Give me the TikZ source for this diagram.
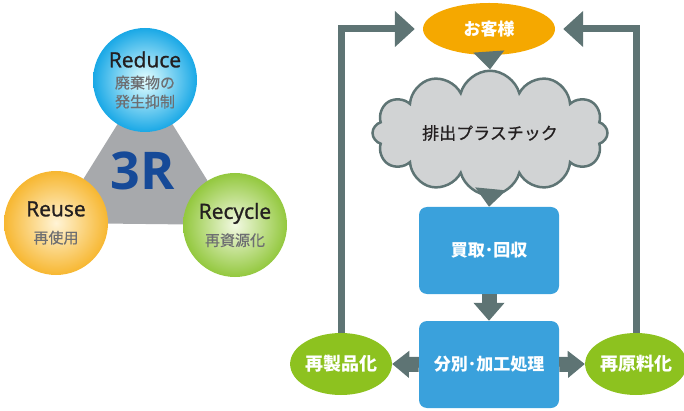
\documentclass[tikz,border=0pt]{standalone}
\usepackage{fontspec}
\setmainfont{Open Sans}
\newfontfamily\rfont[FakeBold=1.2]{Open Sans}
\newfontfamily\jp{Noto Sans CJK JP}
\newfontfamily\jpm[FakeBold=0.6]{Noto Sans CJK JP}
\usepackage{tikz}
\usetikzlibrary{shapes.symbols,shapes.geometric,arrows.meta,backgrounds}
\usepackage{xcolor}
\definecolor{slate}{RGB}{94,116,116}
\definecolor{custorange}{RGB}{245,168,0}
\definecolor{boxblue}{RGB}{58,161,220}
\definecolor{leaf}{RGB}{141,194,31}
\definecolor{cloudgray}{RGB}{209,211,212}
\definecolor{trigray}{RGB}{167,169,172}
\definecolor{rblue}{RGB}{22,74,152}
\definecolor{rtext}{RGB}{35,31,32}
\definecolor{subgray}{RGB}{109,110,113}
\newcommand\fsz[1]{\fontsize{#1}{1.2\dimexpr#1pt\relax}\selectfont}
\tikzstyle{rcircle} = [circle, minimum size=104pt, inner sep=0pt, align=center,
    text=rtext, shading=radial, font=\jpm\fsz{15}]
\tikzstyle{flowbox} = [rectangle, rounded corners=8pt, fill=boxblue,
    minimum width=140pt, minimum height=87pt, text=white, font=\jp\bfseries\fsz{17}]
\tikzstyle{greenell} = [ellipse, fill=leaf, minimum width=98pt, minimum height=62pt,
    inner sep=0pt, text=white, font=\jp\bfseries\fsz{18}]
\tikzstyle{bigarrow} = [line width=15pt, draw=slate, -{Triangle[width=30pt,length=18pt]}]
\tikzstyle{fbline} = [line width=7pt, draw=slate, -{Triangle[width=35pt,length=20pt]}]

\begin{document}
\begin{tikzpicture}[x=1pt,y=-1pt]
\useasboundingbox (0,0) rectangle (684,411);
% 3R
\node [rcircle, inner color=white!90!cyan, outer color={rgb,255:red,25;green,168;blue,230}] (reduce) at (145,80)
    {{\rfont\fsz{21}Reduce}\\[3pt]\textcolor{subgray}{廃棄物の}\\[1pt]\textcolor{subgray}{発生抑制}};
\node [rcircle, inner color={rgb,255:red,255;green,244;blue,214}, outer color={rgb,255:red,247;green,183;blue,49}] (reuse) at (56,223)
    {{\rfont\fsz{21}Reuse}\\[9pt]\textcolor{subgray}{再使用}};
\node [rcircle, inner color={rgb,255:red,242;green,249;blue,226}, outer color={rgb,255:red,147;green,200;blue,62}] (recycle) at (235,225)
    {{\rfont\fsz{21}Recycle}\\[9pt]\textcolor{subgray}{再資源化}};
\begin{scope}[on background layer]
\fill [trigray] (reduce.center) -- (reuse.center) -- (recycle.center) -- cycle;
\end{scope}
\node [text=rblue, font=\bfseries\fsz{52}] (threer) at (143,171) {3R};

% flow
\node [ellipse, fill=custorange, minimum width=132pt, minimum height=52pt, inner sep=0pt,
    text=white, font=\jp\bfseries\fsz{17}] (cust) at (489,29) {お客様};
\node [cloud, cloud puffs=12, aspect=2.3, minimum width=235pt, minimum height=105pt,
    fill=cloudgray, draw=slate, line width=2.5pt, text=rtext, font=\jpm\fsz{17}] (cloud) at (490,133) {排出プラスチック};
\node [flowbox] (buy) at (489,250.5) {買取･回収};
\node [flowbox] (sort) at (489,364.5) {分別･加工処理};
\node [greenell] (reprod) at (341,364) {再製品化};
\node [greenell] (remat) at (636,364) {再原料化};

\draw [bigarrow] (cust.south) -- (cloud.north);
\draw [bigarrow] (cloud.south) -- (buy.north);
\draw [bigarrow] (buy.south) -- (sort.north);
\draw [bigarrow, -{Triangle[width=26pt,length=17pt]}] (sort.west) -- (reprod.east);
\draw [bigarrow, -{Triangle[width=26pt,length=17pt]}] (sort.east) -- (remat.west);
\draw [fbline, shorten >=8pt] (reprod.north) |- (cust.west);
\draw [fbline, shorten >=8pt] (remat.north) |- (cust.east);
\end{tikzpicture}
\end{document}
